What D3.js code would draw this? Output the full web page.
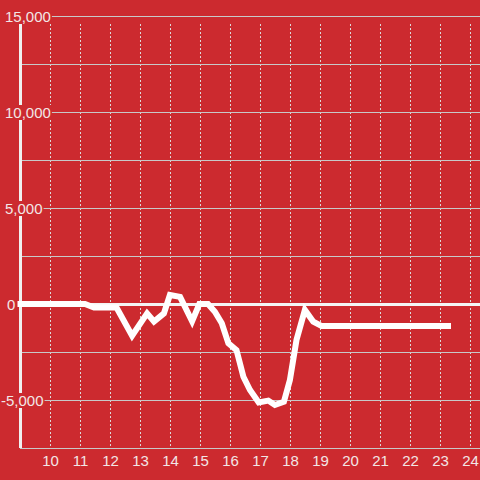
<!DOCTYPE html>
<html><head><meta charset="utf-8">
<script src="https://cdn.jsdelivr.net/npm/d3@7"></script>
<style>html,body{margin:0;padding:0;background:#cc2a2f;}svg{display:block;}</style>
</head><body>
<script>
// Data (hour of day, value)
const hours  = [9, 11.15, 11.45, 12.2, 12.72, 13.22, 13.45, 13.78, 13.98, 14.32, 14.72, 14.96, 15.25, 15.48, 15.71, 15.93, 16.2, 16.43, 16.65, 16.94, 17.26, 17.48, 17.78, 17.98, 18.2, 18.48, 18.76, 19.04, 23.25];
const values = [0, 0, -180, -180, -1650, -490, -910, -490, 470, 370, -900, 0, 0, -400, -1000, -2050, -2400, -3790, -4480, -5130, -5030, -5260, -5090, -3960, -1875, -310, -920, -1150, -1150];
const xTicks = [10,11,12,13,14,15,16,17,18,19,20,21,22,23,24];
const yGrid  = [-7500,-5000,-2500,0,2500,5000,7500,10000,12500,15000];
const yLabels = [-5000,0,5000,10000,15000];

const W=480,H=480, bg="#cc2a2f";
const svg=d3.select("body").append("svg").attr("width",W).attr("height",H);
svg.append("rect").attr("width",W).attr("height",H).attr("fill",bg);

const x=d3.scaleLinear().domain([9,24.317]).range([20.5,480]);
const y=d3.scaleLinear().domain([-7500,15000]).range([448,16]);
const font='"Liberation Sans", Arial, sans-serif';

// vertical dotted grid
svg.append("g").selectAll("line").data(xTicks).join("line")
  .attr("x1",d=>x(d)).attr("x2",d=>x(d)).attr("y1",24).attr("y2",448)
  .attr("stroke","#dcdcdc").attr("stroke-width",1).attr("stroke-dasharray","2,2");

// horizontal grid
svg.append("g").selectAll("line").data(yGrid).join("line")
  .attr("x1",20).attr("x2",W).attr("y1",d=>Math.round(y(d))+0.5).attr("y2",d=>Math.round(y(d))+0.5)
  .attr("stroke",d=>d===0?"#f4f4f4":"#c8c8c8").attr("stroke-width",d=>d===0?3:1);

// y axis line
svg.append("line").attr("x1",20.5).attr("x2",20.5).attr("y1",24).attr("y2",448)
  .attr("stroke","#f0f0f0").attr("stroke-width",3);

// data line
const pts=hours.map((h,i)=>[h,values[i]]);
svg.append("path").datum(pts)
  .attr("d",d3.line().x(d=>x(d[0])).y(d=>y(d[1])))
  .attr("fill","none").attr("stroke","#ffffff").attr("stroke-width",6)
  .attr("stroke-linecap","square").attr("stroke-linejoin","miter");

// y labels with background
const fmt=v=>d3.format(",")(v).replace("\u2212","-");
const lg=svg.append("g");
yLabels.forEach(v=>{
  const g=lg.append("g");
  const t=g.append("text").attr("x", v<0?1:(v===0?7:5)).attr("y",y(v)).attr("dy","0.4em")
    .attr("font-family",font).attr("font-size",15).attr("fill","#f2e6e6").text(fmt(v));
  const b=t.node().getBBox();
  g.insert("rect","text").attr("x",b.x-1).attr("y",b.y+1).attr("width",b.width+2).attr("height",b.height-2).attr("fill",bg);
});

// x labels
svg.append("g").selectAll("text").data(xTicks).join("text")
  .attr("x",d=>x(d)).attr("y",466).attr("text-anchor","middle")
  .attr("font-family",font).attr("font-size",15).attr("fill","#f2e6e6").text(d=>d);
</script>
</body></html>
